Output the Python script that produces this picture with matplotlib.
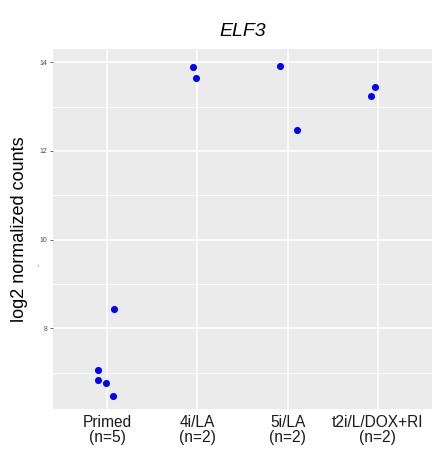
import matplotlib
matplotlib.use("Agg")
import matplotlib.pyplot as plt
from matplotlib.ticker import MultipleLocator

plt.rcParams['font.family'] = ['Liberation Sans', 'DejaVu Sans']

# groups and samples (x jitter offsets)
groups = ['Primed\n(n=5)', '4i/LA\n(n=2)', '5i/LA\n(n=2)', 't2i/L/DOX+RI\n(n=2)']
group_idx = [1, 1, 1, 1, 1, 2, 2, 3, 3, 4, 4]
jitter = [-0.10, -0.10, -0.01, 0.07, 0.08, -0.05, -0.01, -0.08, 0.10, -0.08, -0.03]
counts = [7.06, 6.84, 6.77, 6.47, 8.43, 13.89, 13.64, 13.91, 12.48, 13.24, 13.45]

fig = plt.figure(figsize=(4.32, 4.55), dpi=100)
ax = fig.add_axes([53 / 432, 1 - 409 / 455, (432 - 53) / 432, (409 - 49) / 455])
ax.set_facecolor('#EBEBEB')

xs = [g + j for g, j in zip(group_idx, jitter)]
ax.scatter(xs, counts, s=26, color='blue', zorder=3, linewidths=0)

ax.set_xlim(0.4, 4.6)
ax.set_ylim(6.18, 14.30)
ax.set_xticks(range(1, len(groups) + 1))
ax.set_xticklabels(groups, fontsize=11.2, color='#1a1a1a', linespacing=1.0)
ax.yaxis.set_major_locator(MultipleLocator(2))
ax.yaxis.set_minor_locator(MultipleLocator(1))
ax.tick_params(axis='y', which='major', labelsize=5, colors='#4d4d4d', length=2.5, width=0.6, pad=1.5)
ax.tick_params(axis='y', which='minor', length=0)
ax.tick_params(axis='x', length=0, pad=4)

ax.grid(True, which='major', color='white', linewidth=1.1)
ax.grid(True, which='minor', axis='y', color='white', linewidth=0.55)
ax.set_axisbelow(True)
for sp in ax.spines.values():
    sp.set_visible(False)

ax.set_ylabel('log2 normalized counts', fontsize=13, labelpad=8)
ax.set_title('ELF3', fontsize=14, style='italic', pad=9)
fig.text(38 / 432, 1 - 268 / 455, "'", fontsize=5, color='#4d4d4d', ha='center', va='center')

fig.savefig('out.png', dpi=100)
